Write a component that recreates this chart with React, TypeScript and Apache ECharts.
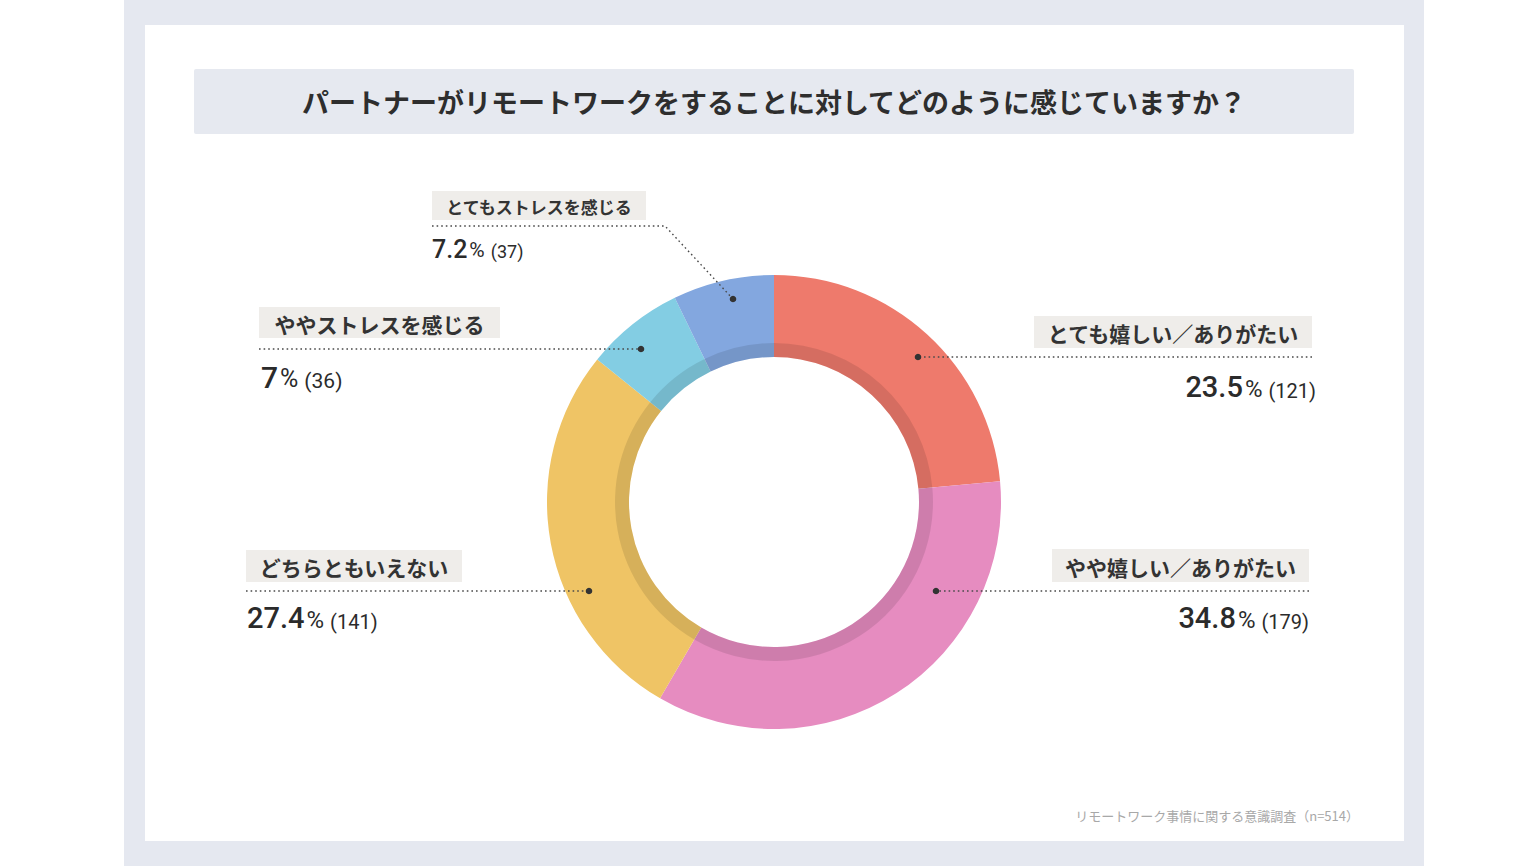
import React, { useEffect, useRef } from "react";
import * as echarts from "echarts";

const titleText = "パートナーがリモートワークをすることに対してどのように感じていますか？";
const sourceText = "リモートワーク事情に関する意識調査（n=514）";
const categories = [
  "とても嬉しい／ありがたい",
  "やや嬉しい／ありがたい",
  "どちらともいえない",
  "ややストレスを感じる",
  "とてもストレスを感じる",
];
const percents = ["23.5", "34.8", "27.4", "7", "7.2"];
const counts = [121, 179, 141, 36, 37];
const sliceColors = ["#ee7a6c", "#e68cc0", "#efc465", "#83cde3", "#83a7df"];

// layout of annotation blocks (positions only)
type Lay = {
  side: "left" | "right";
  bx: number; bw: number; by: number; bh: number; fs: number;
  line: number[][]; dot: number[];
  vx: number; vy: number; vfs: number;
};
const layouts: Lay[] = [
  { side: "right", bx: 1034, bw: 278, by: 316, bh: 32, fs: 21, line: [[1312, 357], [918, 357]], dot: [918, 357], vx: 1316, vy: 387, vfs: 29 },
  { side: "right", bx: 1052, bw: 257, by: 549, bh: 33, fs: 21, line: [[1309, 591], [936, 591]], dot: [936, 591], vx: 1309, vy: 618, vfs: 29 },
  { side: "left", bx: 246, bw: 216, by: 550, bh: 32, fs: 21, line: [[246, 591], [589, 591]], dot: [589, 591], vx: 247, vy: 618, vfs: 29 },
  { side: "left", bx: 259, bw: 241, by: 307, bh: 31, fs: 21, line: [[259, 349], [641, 349]], dot: [641, 349], vx: 261, vy: 377, vfs: 30 },
  { side: "left", bx: 432, bw: 214, by: 191, bh: 29, fs: 17, line: [[432, 226], [665, 226], [733, 299]], dot: [733, 299], vx: 432, vy: 249, vfs: 25 },
];

const JP = "'Noto Sans CJK JP', 'Noto Sans', sans-serif";
const NUM = "Roboto, 'Noto Sans', sans-serif";

export default function App() {
  const ref = useRef<HTMLDivElement>(null);
  useEffect(() => {
    document.body.style.margin = "0";
    if (!ref.current) return;
    const chart = echarts.init(ref.current, undefined, { renderer: "svg" });
    const pieData = categories.map((c, i) => ({
      name: c,
      value: counts[i],
      itemStyle: { color: sliceColors[i] },
    }));

    const graphics: any[] = [
      { type: "rect", z: -5, shape: { x: 124, y: 0, width: 1300, height: 866 }, style: { fill: "#e5e8f0" } },
      { type: "rect", z: -4, shape: { x: 145, y: 25, width: 1259, height: 816 }, style: { fill: "#ffffff" } },
      { type: "rect", z: -3, shape: { x: 194, y: 69, width: 1160, height: 65, r: 2 }, style: { fill: "#e6e9f0" } },
      {
        type: "text", z: 5, x: 774, y: 101,
        style: {
          text: titleText, fill: "#2e2e2e", fontSize: 27, fontWeight: "bold", fontFamily: JP,
          align: "center", verticalAlign: "middle", textAlign: "center", textVerticalAlign: "middle",
        },
      },
      {
        type: "text", z: 5, x: 1359, y: 815,
        style: {
          text: sourceText, fill: "#a8a8a8", fontSize: 13, fontFamily: JP,
          align: "right", verticalAlign: "middle", textAlign: "right", textVerticalAlign: "middle",
        },
      },
    ];

    layouts.forEach((l, i) => {
      graphics.push({
        type: "rect", z: -2,
        shape: { x: l.bx, y: l.by, width: l.bw, height: l.bh },
        style: { fill: "#efedea" },
      });
      graphics.push({
        type: "text", z: 5, x: l.bx + l.bw / 2, y: l.by + l.bh / 2 + 1,
        style: {
          text: categories[i], fill: "#333333", fontSize: l.fs, fontWeight: "bold", fontFamily: JP,
          align: "center", verticalAlign: "middle", textAlign: "center", textVerticalAlign: "middle",
        },
      });
      graphics.push({
        type: "polyline", z: 100,
        shape: { points: l.line },
        style: { stroke: "#4a4a4a", lineWidth: 1.4, lineDash: [1.6, 3], fill: null },
      });
      graphics.push({
        type: "circle", z: 101,
        shape: { cx: l.dot[0], cy: l.dot[1], r: 3.3 },
        style: { fill: "#333333" },
      });
      graphics.push({
        type: "text", z: 5, x: l.vx, y: l.vy,
        style: {
          text: `{n|${percents[i]}}{p|%}{c|(${counts[i]})}`,
          align: l.side === "left" ? "left" : "right",
          textAlign: l.side === "left" ? "left" : "right",
          verticalAlign: "middle", textVerticalAlign: "middle",
          rich: {
            n: { fontSize: l.vfs, fontFamily: NUM, fontWeight: 500, fill: "#2b2b2b", color: "#2b2b2b", verticalAlign: "bottom" },
            p: { fontSize: Math.round(l.vfs * 0.84), fontFamily: NUM, fontWeight: 400, fill: "#2b2b2b", color: "#2b2b2b", padding: [0, 0, 1, 2], verticalAlign: "bottom" },
            c: { fontSize: Math.round(l.vfs * 0.7), fontFamily: NUM, fontWeight: 400, fill: "#2b2b2b", color: "#2b2b2b", padding: [0, 0, 1, 6], verticalAlign: "bottom" },
          },
        },
      });
    });

    chart.setOption({
      animation: false,
      backgroundColor: "#ffffff",
      graphic: { elements: graphics },
      series: [
        {
          type: "pie",
          center: [774, 502],
          radius: [145, 227],
          startAngle: 90,
          clockwise: true,
          silent: true,
          label: { show: false },
          labelLine: { show: false },
          emphasis: { disabled: true },
          itemStyle: { borderWidth: 0 },
          data: pieData,
          z: 2,
        },
        {
          type: "pie",
          center: [774, 502],
          radius: [145, 159],
          startAngle: 90,
          clockwise: true,
          silent: true,
          label: { show: false },
          labelLine: { show: false },
          emphasis: { disabled: true },
          itemStyle: { borderWidth: 0, color: "rgba(0,0,0,0.1)" },
          data: categories.map((c, i) => ({ name: c, value: counts[i] })),
          z: 3,
        },
      ],
    });
    return () => chart.dispose();
  }, []);
  return (
    <div
      ref={ref}
      style={{ position: "absolute", left: 0, top: 0, width: 1540, height: 866 }}
    />
  );
}
